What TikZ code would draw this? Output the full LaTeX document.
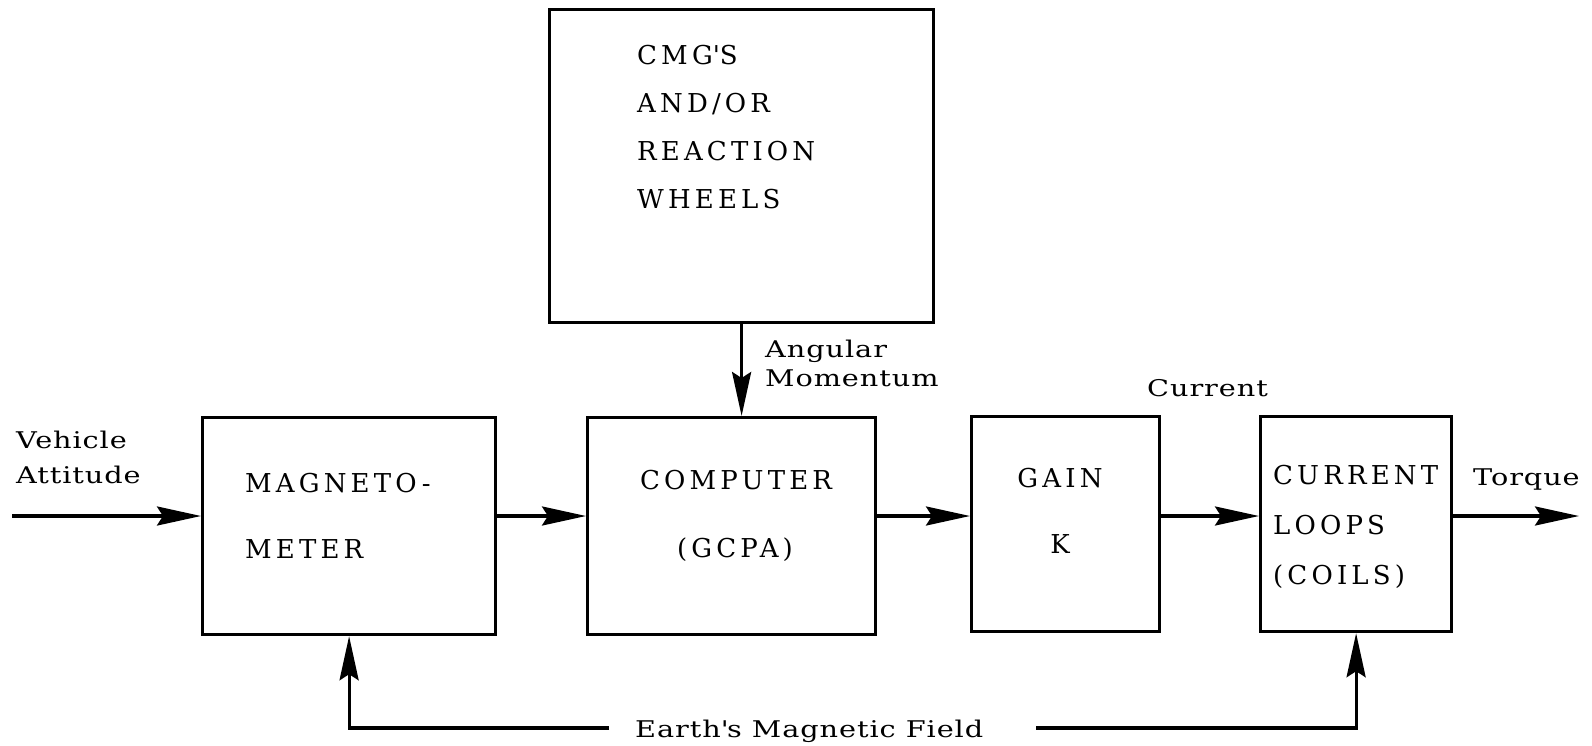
\documentclass[tikz,border=0pt]{standalone}
\usepackage{fontspec}
\setmainfont{DejaVu Serif}
\newfontfamily\capsfont[LetterSpace=16]{DejaVu Serif}
\newfontfamily\labelfont[FakeStretch=1.25,LetterSpace=4]{DejaVu Serif}
\usetikzlibrary{arrows.meta}

\begin{document}
\begin{tikzpicture}[
  x=1pt,
  y=-1pt,
  wire/.style={line width=3.2pt},
  signal/.style={wire, -{Stealth[length=44pt,width=19pt,inset=6pt]}},
  block/.style={
    draw,
    line width=3.2pt,
    anchor=north west,
    inner sep=0pt
  },
  box text/.style={
    font=\capsfont\fontsize{26}{#1}\selectfont,
    align=left,
    anchor=base west,
    inner sep=0pt
  },
  box text/.default=48,
  signal label/.style={
    font=\labelfont\fontsize{23}{#1}\selectfont,
    align=left,
    anchor=base west,
    inner sep=0pt
  },
  signal label/.default=30
]
  \useasboundingbox (0,0) rectangle (1592,745);

  % blocks
  \node[block, minimum width=384pt, minimum height=313pt] (cmg) at (548,8) {};
  \node[block, minimum width=293pt, minimum height=217pt] (mag) at (201,416) {};
  \node[block, minimum width=288pt, minimum height=217pt] (comp) at (586,416) {};
  \node[block, minimum width=188pt, minimum height=215pt] (gain) at (970,415) {};
  \node[block, minimum width=191pt, minimum height=215pt] (loops) at (1259,415) {};

  % block texts (placed at the baseline of their last line)
  \node[box text=48] (cmgText) at (637,208) {CMG\textquotesingle S\\AND/OR\\REACTION\\WHEELS};
  \node[box text=66] (magText) at (245,558) {MAGNETO-\\METER};
  \node[box text=68] (compText) at (640,557) {COMPUTER\\\hspace*{37pt}(GCPA)};
  \node[box text=66, align=center, anchor=base] (gainText) at (1060,553) {GAIN\\K};
  \node[box text=50] (loopsText) at (1273,584) {CURRENT\\LOOPS\\(COILS)};

  % signal labels
  \node[signal label=35] (attLabel) at (16,483) {Vehicle\\Attitude};
  \node[signal label=29] (angLabel) at (765,386) {Angular\\Momentum};
  \node[signal label] (curLabel) at (1147,396) {Current};
  \node[signal label] (torqLabel) at (1473,485) {Torque};
  \node[signal label] (fieldLabel) at (635,737) {Earth\textquotesingle s Magnetic Field};

  % connectors
  \coordinate (sig) at (0,516);
  \coordinate (attIn) at (12,516);
  \coordinate (torqOut) at (1579,516);
  \coordinate (fieldL) at (609,728);
  \coordinate (fieldR) at (1036,728);

  \draw[signal] (attIn) -- (attIn -| mag.west);
  \draw[signal] (mag.east |- sig) -- (comp.west |- sig);
  \draw[signal] (comp.east |- sig) -- (gain.west |- sig);
  \draw[signal] (gain.east |- sig) -- (loops.west |- sig);
  \draw[signal] (loops.east |- sig) -- (torqOut);
  \draw[signal] (cmg.south) -- (cmg.south |- comp.north);
  \draw[signal] (fieldL) -| (mag.south);
  \draw[signal] (fieldR) -| (loops.south);
\end{tikzpicture}
\end{document}
